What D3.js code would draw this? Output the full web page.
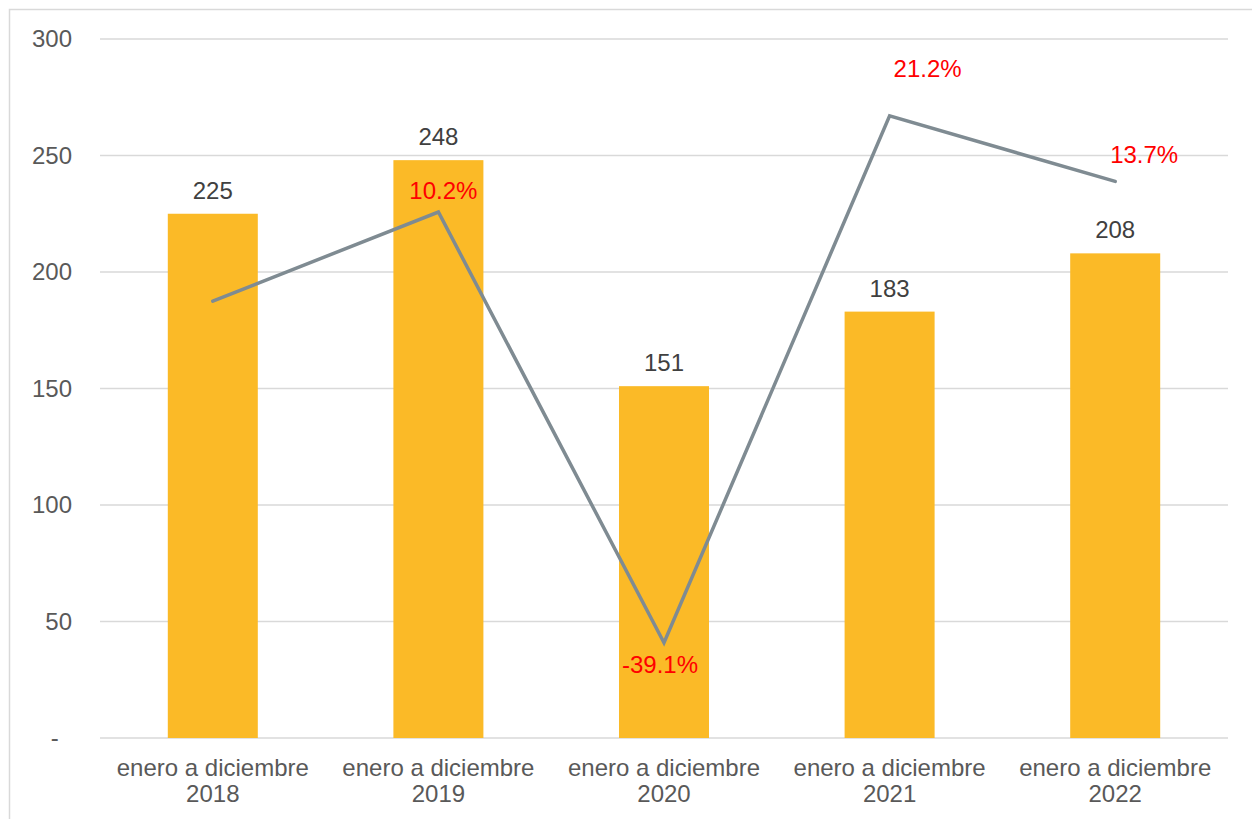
<!DOCTYPE html>
<html>
<head>
<meta charset="utf-8">
<script src="https://cdn.jsdelivr.net/npm/d3@7/dist/d3.min.js"></script>
<style>
  html, body { margin: 0; padding: 0; background: #fff; }
  svg { display: block; font-family: "Liberation Sans", Arial, sans-serif; }
</style>
</head>
<body>
<svg id="chart" width="1252" height="819"></svg>
<script>
// ---- data ----
const categories = ["enero a diciembre 2018", "enero a diciembre 2019", "enero a diciembre 2020", "enero a diciembre 2021", "enero a diciembre 2022"];
const barValues = [225, 248, 151, 183, 208];
const growthPct = [0, 10.2, -39.1, 21.2, 13.7];
const growthLabels = ["", "10.2%", "-39.1%", "21.2%", "13.7%"];
const yTicks = [0, 50, 100, 150, 200, 250, 300];

(function () {
// ---- layout ----
const svg = d3.select("#chart");
const W = 1252, H = 819;
const pLeft = 100, pRight = 1228, pTop = 39, pBottom = 738;
const FS = 24;

// outer frame (chart area border)
svg.append("path")
  .attr("d", `M9.5,${H} L9.5,9.5 L${W},9.5`)
  .attr("fill", "none").attr("stroke", "#d9d9d9").attr("stroke-width", 1.5);

const xc = d3.scalePoint().domain(categories).range([pLeft, pRight]).padding(0.5);
const y = d3.scaleLinear().domain([0, 300]).range([pBottom, pTop]);
const y2 = d3.scaleLinear().domain([-50, 30]).range([pBottom, pTop]);

// gridlines
svg.append("g").selectAll("line").data(yTicks).join("line")
  .attr("x1", pLeft).attr("x2", pRight)
  .attr("y1", d => y(d)).attr("y2", d => y(d))
  .attr("stroke", "#d9d9d9").attr("stroke-width", 1.5);

// y axis labels
const yAxis = d3.axisLeft(y).tickValues(yTicks).tickSize(0).tickPadding(0)
  .tickFormat(d => d === 0 ? "-\u2007" : d3.format(",")(d));
const ya = svg.append("g").attr("transform", `translate(72,0)`).call(yAxis);
ya.select(".domain").remove();
ya.selectAll("text").attr("fill", "#595959").attr("font-size", FS)
  .attr("font-family", "'Liberation Sans', Arial, sans-serif");

// bars
const bw = 90;
svg.append("g").selectAll("rect").data(barValues).join("rect")
  .attr("x", (d, i) => xc(categories[i]) - bw / 2)
  .attr("width", bw)
  .attr("y", d => y(d))
  .attr("height", d => y(0) - y(d))
  .attr("fill", "#FBBA27");

// bar value labels
svg.append("g").selectAll("text").data(barValues).join("text")
  .attr("x", (d, i) => xc(categories[i]))
  .attr("y", d => y(d) - 15)
  .attr("text-anchor", "middle")
  .attr("fill", "#404040").attr("font-size", FS)
  .text(d => d);

// x axis category labels
const xg = svg.append("g");
categories.forEach((c, i) => {
  const parts = [c.replace(/ \d{4}$/, ""), c.match(/\d{4}$/)[0]];
  const t = xg.append("text").attr("text-anchor", "middle")
    .attr("fill", "#595959").attr("font-size", FS);
  t.append("tspan").attr("x", xc(c)).attr("y", 776).text(parts[0]);
  t.append("tspan").attr("x", xc(c)).attr("y", 802).text(parts[1]);
});

// growth line (secondary axis)
const line = d3.line()
  .x((d, i) => xc(categories[i]))
  .y(d => y2(d));
svg.append("path").datum(growthPct)
  .attr("d", line)
  .attr("fill", "none").attr("stroke", "#7F8B92").attr("stroke-width", 3.5)
  .attr("stroke-linejoin", "miter").attr("stroke-linecap", "round");

// growth labels (manually offset as in original)
const labelOffsets = [[0, 0], [5, -13], [-4, 30], [38, -39], [29, -18]];
svg.append("g").selectAll("text").data(growthPct).join("text")
  .attr("x", (d, i) => xc(categories[i]) + labelOffsets[i][0])
  .attr("y", (d, i) => y2(d) + labelOffsets[i][1])
  .attr("text-anchor", "middle")
  .attr("fill", "#FF0000").attr("font-size", FS)
  .text((d, i) => growthLabels[i]);
})();
</script>
</body>
</html>
